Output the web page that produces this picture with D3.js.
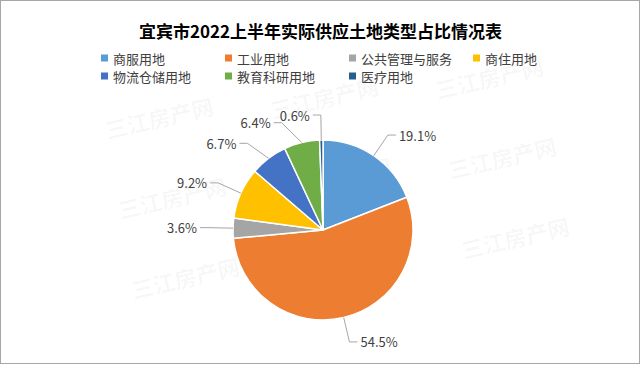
<!DOCTYPE html>
<html><head><meta charset="utf-8">
<script src="https://cdn.jsdelivr.net/npm/d3@7/dist/d3.min.js"></script>
<style>body{margin:0;background:#fff}svg{display:block}</style>
</head><body><svg id="c" width="641" height="365"></svg>
<script>
const title = "宜宾市2022上半年实际供应土地类型占比情况表";
const categories = ["商服用地","工业用地","公共管理与服务","商住用地","物流仓储用地","教育科研用地","医疗用地"];
const values = [19.1, 54.5, 3.6, 9.2, 6.7, 6.4, 0.6];
const labels = ["19.1%","54.5%","3.6%","9.2%","6.7%","6.4%","0.6%"];
const colors = ["#5B9BD5","#ED7D31","#A5A5A5","#FFC000","#4472C4","#70AD47","#255E91"];
const watermark = "三江房产网";

const W = 641, H = 365;
const svg = d3.select("#c");
const FONT = "'Noto Sans CJK SC','Noto Sans',sans-serif";

svg.append("rect").attr("x",0.5).attr("y",0.5).attr("width",W-2).attr("height",H-2)
  .attr("fill","#fff").attr("stroke","#A6A6A6").attr("stroke-width",1);

// watermarks (decorative grid)
const wm = svg.append("g");
for (let row = 0; row < 3; row++) {
  for (let col = 0; col < 3; col++) {
    const x = 159 + col*165 + row*13, y = 117 - col*20 + row*80;
    wm.append("text").attr("transform",`translate(${x},${y}) rotate(-13)`)
      .attr("text-anchor","middle").attr("dominant-baseline","central")
      .attr("font-family",FONT).attr("font-size",22).attr("font-weight","bold")
      .attr("fill","#000").attr("fill-opacity",0.04).text(watermark);
  }
}

// title
svg.append("text").attr("x",W/2).attr("y",30).attr("text-anchor","middle")
  .attr("dominant-baseline","central").attr("font-family",FONT)
  .attr("font-size",17).attr("font-weight","bold").attr("fill","#000").text(title);

// legend
const legX = d3.scalePoint().domain(d3.range(4)).range([101,473]);
const leg = svg.append("g");
categories.forEach((c,i)=>{
  const col = i % 4, row = Math.floor(i/4);
  const x = legX(col), y = 58 + row*18;
  leg.append("rect").attr("x",x).attr("y",y-3.5).attr("width",7).attr("height",7).attr("fill",colors[i]);
  leg.append("text").attr("x",x+12).attr("y",y).attr("dominant-baseline","central")
    .attr("font-family",FONT).attr("font-size",13).attr("fill","#404040").text(c);
});

// pie
const cx = 323, cy = 230, r = 90;
const pie = d3.pie().sort(null).value(d=>d);
const arcs = pie(values);
const arc = d3.arc().innerRadius(0).outerRadius(r);
const g = svg.append("g").attr("transform",`translate(${cx},${cy})`);
g.selectAll("path").data(arcs).join("path").attr("d",arc)
  .attr("fill",(d,i)=>colors[i]).attr("stroke","#fff").attr("stroke-width",1.5)
  .attr("stroke-linejoin","round");

// labels with simple angular spreading
const minSep = 20*Math.PI/180;
const mids = arcs.map(d=>(d.startAngle+d.endAngle)/2);
const la = mids.slice();
for (let i = la.length-2; i >= 0; i--) la[i] = Math.min(la[i], la[i+1]-minSep);
const Re = 115;
arcs.forEach((d,i)=>{
  const m = mids[i], a = la[i];
  const p0 = [Math.sin(m)*r, -Math.cos(m)*r];
  const p1 = [Math.sin(a)*Re, -Math.cos(a)*Re];
  const right = Math.sin(a) >= 0;
  const p2 = [p1[0] + (right?8:-8), p1[1]];
  g.append("polyline").attr("points",[p0,p1,p2].map(p=>p.join(",")).join(" "))
    .attr("fill","none").attr("stroke","#A6A6A6").attr("stroke-width",1);
  g.append("text").attr("x",p2[0]+(right?3:-3)).attr("y",p2[1])
    .attr("text-anchor",right?"start":"end").attr("dominant-baseline","central")
    .attr("font-family",FONT).attr("font-size",13).attr("fill","#404040").text(labels[i]);
});
</script></body></html>
